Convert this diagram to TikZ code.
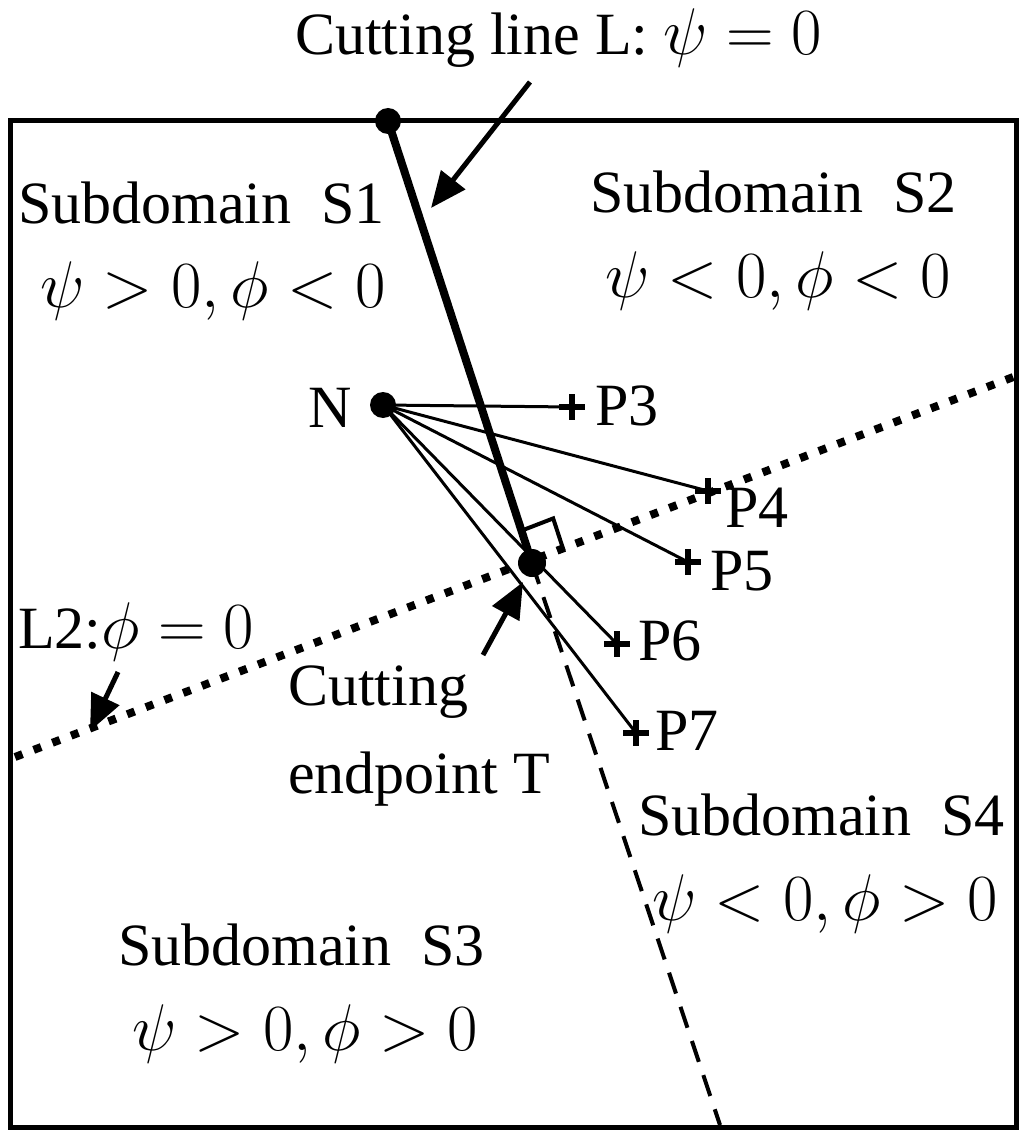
\RequirePackage{fix-cm}
\documentclass[tikz,border=0pt]{standalone}
\usepackage{fontspec}
\setmainfont{Liberation Serif}
\usetikzlibrary{arrows.meta,calc}
\newcommand\mymath[1]{{\fontsize{66}{72}\selectfont$#1$}}
\begin{document}
\begin{tikzpicture}[x=1pt,y=-1pt,
  lbl/.style={anchor=base west,inner sep=0pt,font=\fontsize{60}{72}\selectfont},
  dotnode/.style={circle,fill=black,inner sep=0pt,minimum size=26pt},
  frame/.style={line width=5pt},
  cutline/.style={line width=8pt},
  thin/.style={line width=3pt},
  dotline/.style={line width=8pt,dash pattern=on 8pt off 12pt},
  dashline/.style={line width=4pt,dash pattern=on 22pt off 14pt},
  pointer/.style={line width=5pt,-{Triangle[length=36pt,width=30pt]}},
  plusmark/.pic={\draw[line width=6pt] (-13,0)--(13,0) (0,-13)--(0,13);}]
\useasboundingbox (0,0) rectangle (1021,1131);
% frame
\draw[frame] (10,121) rectangle (1016,1127);
% points
\coordinate (A) at (388,121);
\coordinate (N) at (383,405);
\coordinate (T) at (532,563);
\coordinate (B) at (720,1125);
\coordinate (L2a) at (15,757);
\coordinate (L2b) at (1016,376);
\coordinate (P3) at (572,407);
\coordinate (P4) at (708,491);
\coordinate (P5) at (688,562);
\coordinate (P6) at (617,644);
\coordinate (P7) at (636,733);
% L2 dotted
\draw[dotline] (L2a) -- (L2b);
% dashed continuation
\draw[dashline] (T) -- (B);
% lines from N
\draw[thin] (N) -- (P3);
\draw[thin] (N) -- (P4);
\draw[thin] (N) -- (P5);
\draw[thin] (N) -- (P6);
\draw[thin] (N) -- (P7);
\foreach \p in {P3,P4,P5,P6,P7} \pic at (\p) {plusmark};
% cutting line
\draw[cutline] (A) -- (T);
% right angle mark
\coordinate (m1) at ($(T)!34pt!(A)$);
\coordinate (m2) at ($(T)!34pt!(L2b)$);
\draw[line width=4pt] (m1) -- ($(m1)+(m2)-(T)$) -- (m2);
% dots
\node[dotnode] (Adot) at (A) {};
\node[dotnode] (Ndot) at (N) {};
\node[dotnode,minimum size=28pt] (Tdot) at (T) {};
% arrows
\coordinate (a1s) at (530,82);
\coordinate (a1e) at (431,208);
\draw[pointer] (a1s) -- (a1e);
\coordinate (a2s) at (118,672);
\coordinate (a2e) at (90,731);
\draw[pointer] (a2s) -- (a2e);
\coordinate (a3s) at (483,655);
\coordinate (a3e) at (523,582);
\draw[pointer] (a3s) -- (a3e);
% labels
\node[lbl] (tL) at (295,55) {Cutting line L: \mymath{\psi = 0}};
\node[lbl] (s1) at (18,224) {Subdomain\ \ S1};
\node[lbl] (s1m) at (40,308) {\mymath{\psi > 0, \phi < 0}};
\node[lbl] (s2) at (590,213) {Subdomain\ \ S2};
\node[lbl] (s2m) at (605,298) {\mymath{\psi < 0, \phi < 0}};
\node[lbl] (nl) at (308,427) {N};
\node[lbl] (p3l) at (595,425) {P3};
\node[lbl] (p4l) at (725,527) {P4};
\node[lbl] (p5l) at (710,590) {P5};
\node[lbl] (p6l) at (638,660) {P6};
\node[lbl] (p7l) at (655,750) {P7};
\node[lbl] (l2l) at (18,648) {L2:\mymath{\phi = 0}};
\node[lbl] (ct1) at (288,705) {Cutting};
\node[lbl] (ct2) at (288,793) {endpoint T};
\node[lbl] (s4) at (638,835) {Subdomain\ \ S4};
\node[lbl] (s4m) at (652,920) {\mymath{\psi < 0, \phi > 0}};
\node[lbl] (s3) at (118,965) {Subdomain\ \ S3};
\node[lbl] (s3m) at (132,1050) {\mymath{\psi > 0, \phi > 0}};
\end{tikzpicture}
\end{document}
